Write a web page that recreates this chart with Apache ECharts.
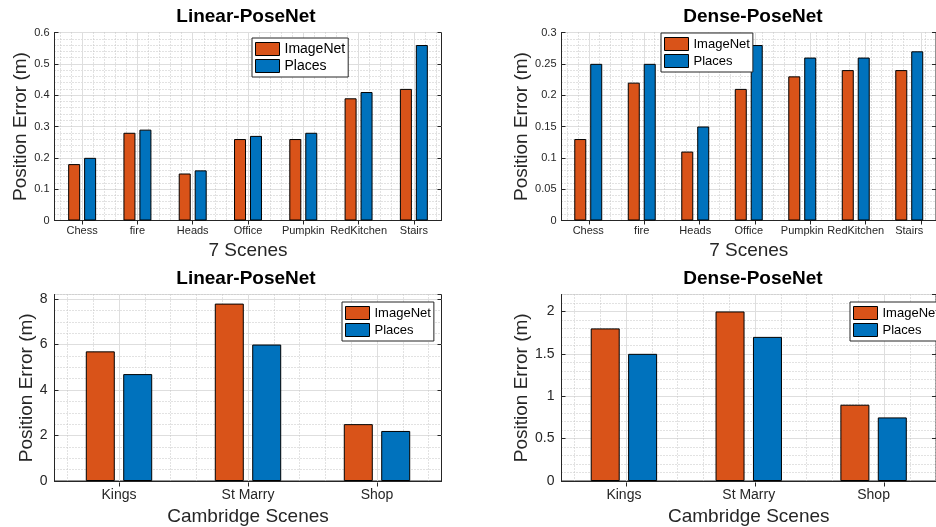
<!DOCTYPE html>
<html><head><meta charset="utf-8">
<script src="https://cdn.jsdelivr.net/npm/echarts@6/dist/echarts.min.js"></script>
<style>html,body{margin:0;padding:0;background:#fff}#c{width:936px;height:527px}</style>
</head><body><div id="c"></div>
<script>
// ---------- data ----------
const scenes7 = ['Chess', 'fire', 'Heads', 'Office', 'Pumpkin', 'RedKitchen', 'Stairs'];
const cambridgeScenes = ['Kings', 'St Marry', 'Shop'];
const linear7ImageNet = [0.18, 0.28, 0.15, 0.26, 0.26, 0.39, 0.42];
const linear7Places   = [0.20, 0.29, 0.16, 0.27, 0.28, 0.41, 0.56];
const dense7ImageNet  = [0.13, 0.22, 0.11, 0.21, 0.23, 0.24, 0.24];
const dense7Places    = [0.25, 0.25, 0.15, 0.28, 0.26, 0.26, 0.27];
const linearCamImageNet = [5.7, 7.8, 2.5];
const linearCamPlaces   = [4.7, 6.0, 2.2];
const denseCamImageNet  = [1.8, 2.0, 0.9];
const denseCamPlaces    = [1.5, 1.7, 0.75];
const seriesNames = ['ImageNet', 'Places'];
const panelTitles = ['Linear-PoseNet', 'Dense-PoseNet', 'Linear-PoseNet', 'Dense-PoseNet'];
const xAxisNames = ['7 Scenes', '7 Scenes', 'Cambridge Scenes', 'Cambridge Scenes'];
const yAxisName = 'Position Error (m)';
const yMax   = [0.6, 0.3, 8.2, 2.2];
const yMajor = [0.1, 0.05, 2, 0.5];
const yMinor = [0.02, 0.01, 0.5, 0.1];

const panelCategories = [scenes7, scenes7, cambridgeScenes, cambridgeScenes];
const panelValues = [
  [linear7ImageNet, linear7Places],
  [dense7ImageNet, dense7Places],
  [linearCamImageNet, linearCamPlaces],
  [denseCamImageNet, denseCamPlaces]
];

// ---------- style / layout ----------
const seriesColors = ['#D95319', '#0072BD'];
const FONT = '"Liberation Sans", Arial, Helvetica, sans-serif';
const AX = '#262626';
const MAJOR = '#DEDEDE';
const MINOR = '#C4C4C4';
const layout = [
  {left: 54.5, top: 32.5, w: 387, h: 188, fs: 11, barW: 12, gap: '33%', nameGapY: 15, nameGapX: 21, mX: 5, mY: 5,
   leg: {left: 252, top: 38, fs: 14}, tx: 246, ty: 7},
  {left: 561.5, top: 32.5, w: 387, h: 188, fs: 11, barW: 12, gap: '33%', nameGapY: 29, nameGapX: 21, mX: 5, mY: 5,
   leg: {left: 661, top: 33, fs: 13}, tx: 753, ty: 7},
  {left: 54.5, top: 294.5, w: 387, h: 188, fs: 14, barW: 29, gap: '29%', nameGapY: 16, nameGapX: 26, mX: 7, mY: 7,
   leg: {left: 342, top: 302, fs: 13}, tx: 246, ty: 269},
  {left: 561.5, top: 294.5, w: 387, h: 188, fs: 14, barW: 29, gap: '29%', nameGapY: 29, nameGapX: 26, mX: 7, mY: 7,
   leg: {left: 850, top: 302, fs: 13}, tx: 753, ty: 269}
];

const grid = [], xAxis = [], yAxis = [], series = [], title = [], legend = [];
const T = 'rgba(0,0,0,0)';

layout.forEach((L, p) => {
  const cats = panelCategories[p];
  const n = cats.length;
  const bw = L.w / n;
  const isBottom = p >= 2;
  const gMain = grid.length;
  grid.push({left: L.left, top: L.top, width: L.w, height: L.h, show: true,
    borderColor: AX, borderWidth: 1, backgroundColor: T, containLabel: false});
  const gMin = grid.length;
  grid.push({left: L.left + 0.1 * bw, top: L.top, width: L.w - 0.2 * bw, height: L.h});
  const gMaj = grid.length;
  grid.push({left: L.left + 0.5 * bw, top: L.top, width: L.w - bw, height: L.h});

  const xMain = xAxis.length;
  xAxis.push({
    type: 'category', gridIndex: gMain, data: cats, boundaryGap: true,
    axisLine: {lineStyle: {color: AX, width: 1}},
    axisTick: {inside: true, alignWithLabel: true, length: 4, lineStyle: {color: AX}},
    axisLabel: {interval: 0, fontSize: L.fs, color: AX, fontFamily: FONT, margin: L.mX},
    splitLine: {show: false},
    name: xAxisNames[p], nameLocation: 'middle', nameGap: L.nameGapX,
    nameTextStyle: {fontSize: 19, color: AX, fontFamily: FONT}
  });
  const minorPattern = [MINOR, MINOR, T, MINOR, MINOR];
  xAxis.push({
    type: 'value', gridIndex: gMin, min: 0, max: 5 * n - 1, interval: 1,
    axisLine: {show: false}, axisTick: {show: false}, axisLabel: {show: false},
    splitLine: {show: true, lineStyle: {color: minorPattern, width: 1, type: [1, 2]}}
  });
  xAxis.push({
    type: 'value', gridIndex: gMaj, position: 'top', min: 0, max: n - 1, interval: 1,
    axisLine: {show: false}, axisTick: {show: true, inside: true, length: 4, lineStyle: {color: AX}},
    axisLabel: {show: false},
    splitLine: {show: true, lineStyle: {color: MAJOR, width: 1}}
  });

  const yA = yAxis.length;
  yAxis.push({
    type: 'value', gridIndex: gMain, position: 'left', min: 0, max: yMax[p], interval: yMajor[p],
    axisLine: {show: true, lineStyle: {color: AX, width: 1}},
    axisTick: {show: true, inside: true, length: 4, lineStyle: {color: AX}},
    axisLabel: {fontSize: L.fs, color: AX, fontFamily: FONT, margin: L.mY, showMaxLabel: !isBottom},
    splitLine: {show: true, lineStyle: {color: MAJOR, width: 1}},
    name: yAxisName, nameLocation: 'middle', nameGap: L.nameGapY,
    nameTextStyle: {fontSize: 19, color: AX, fontFamily: FONT}
  });
  yAxis.push({
    type: 'value', gridIndex: gMain, position: 'right', min: 0, max: yMax[p], interval: yMajor[p],
    axisLine: {show: false},
    axisTick: {show: true, inside: true, length: 4, lineStyle: {color: AX}},
    axisLabel: {show: false}, splitLine: {show: false}
  });
  const k = Math.round(yMajor[p] / yMinor[p]);
  const yPattern = [T];
  for (let i = 1; i < k; i++) yPattern.push(MINOR);
  yAxis.push({
    type: 'value', gridIndex: gMain, position: 'right', min: 0, max: yMax[p], interval: yMinor[p],
    axisLine: {show: false}, axisTick: {show: false}, axisLabel: {show: false},
    splitLine: {show: true, lineStyle: {color: yPattern, width: 1, type: [1, 2]}}
  });
  yAxis.push({type: 'value', gridIndex: gMin, min: 0, max: 1, show: false});
  yAxis.push({type: 'value', gridIndex: gMaj, min: 0, max: 1, show: false});

  seriesNames.forEach((nm, s) => {
    series.push({
      type: 'bar', name: nm, xAxisIndex: xMain, yAxisIndex: yA,
      data: panelValues[p][s], barWidth: L.barW, barGap: L.gap,
      itemStyle: {color: seriesColors[s], borderColor: '#000', borderWidth: 1},
      emphasis: {disabled: true}, z: 3
    });
  });

  title.push({
    text: panelTitles[p], left: L.tx, top: L.ty, textAlign: 'center', padding: 0,
    textStyle: {fontSize: 19, fontWeight: 'bold', color: '#000', fontFamily: FONT}
  });
  legend.push({
    left: L.leg.left, top: L.leg.top, orient: 'vertical', itemWidth: 24, itemHeight: 13, itemGap: 3,
    padding: [4, 3, 4, 3], borderColor: AX, borderWidth: 1, backgroundColor: '#fff', borderRadius: 0,
    icon: 'rect', selectedMode: false, data: seriesNames,
    textStyle: {fontSize: L.leg.fs, color: '#000', fontFamily: FONT},
    itemStyle: {borderColor: '#000', borderWidth: 1}, z: 10
  });
});

const chart = echarts.init(document.getElementById('c'), null, {renderer: 'canvas'});
chart.setOption({
  animation: false,
  backgroundColor: '#fff',
  textStyle: {fontFamily: FONT},
  title, legend, grid, xAxis, yAxis, series
});
</script></body></html>
